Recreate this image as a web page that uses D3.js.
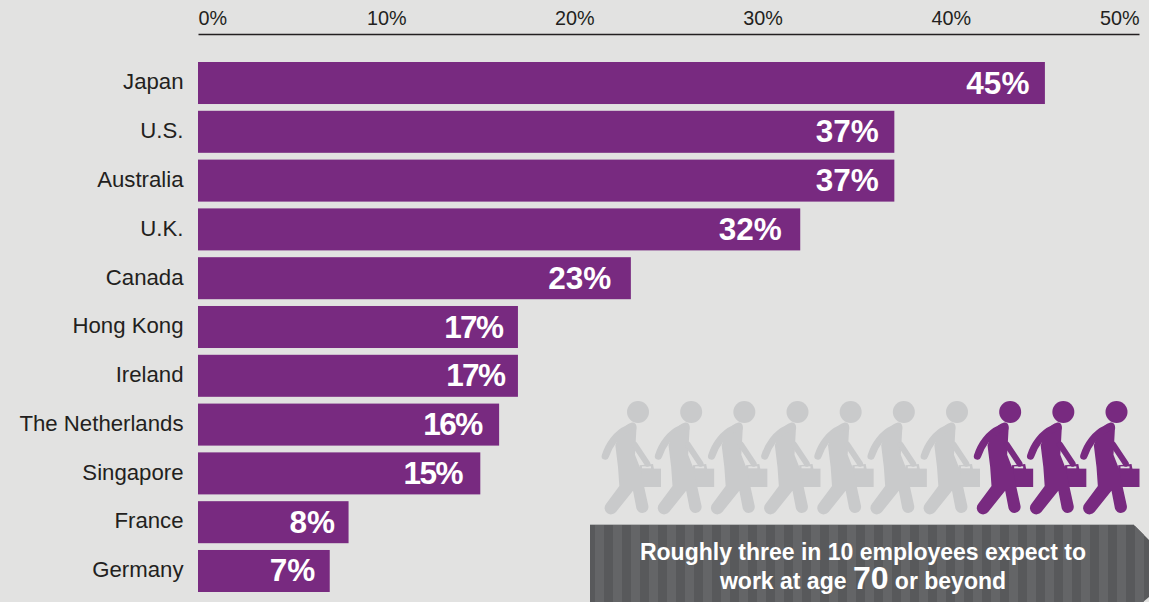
<!DOCTYPE html>
<html><head><meta charset="utf-8">
<script src="https://cdnjs.cloudflare.com/ajax/libs/d3/7.8.5/d3.min.js"></script>
<style>
html,body{margin:0;padding:0;background:#e2e2e1;overflow:hidden}
svg{display:block}
text{font-family:"Liberation Sans",Arial,sans-serif}
</style></head><body>
<svg id="c" width="1149" height="602"></svg>
<script>
const categories=["Japan","U.S.","Australia","U.K.","Canada","Hong Kong","Ireland","The Netherlands","Singapore","France","Germany"];
const values=[45,37,37,32,23,17,17,16,15,8,7];
const tickValues=[0,10,20,30,40,50];
const peopleFlags=[0,0,0,0,0,0,0,1,1,1];
const bannerLines=["Roughly three in 10 employees expect to","work at age ","70"," or beyond"];

const purple="#782a80",bgc="#e2e2e1";
const labelNudge=[0,0,0,-3,-4,0,2,-2,-3,2,1];
const svg=d3.select("#c");
const x=d3.scaleLinear().domain([0,50]).range([198,1139]);
const y=d3.scaleBand().domain(categories).range([62,592]).paddingInner(0.139).paddingOuter(0);
const yc=c=>y(c)+y.bandwidth()/2;

const axis=d3.axisTop(x).tickValues(tickValues).tickFormat(d=>d+"%").tickSize(0).tickPadding(9);
const ag=svg.append("g").attr("transform","translate(0,34)").call(axis);
ag.select(".domain").attr("stroke","#231f20").attr("stroke-width",1.4);
ag.selectAll("text").attr("font-size",19.8).attr("fill","#231f20")
  .style("font-family",'"Liberation Sans",Arial,sans-serif')
  .attr("text-anchor",d=>d===0?"start":d===50?"end":"middle");

svg.append("g").selectAll("rect").data(categories).join("rect")
 .attr("x",x(0)).attr("y",c=>y(c)).attr("height",y.bandwidth())
 .attr("width",(c,i)=>x(values[i])-x(0)).attr("fill",purple);
svg.append("g").selectAll("text").data(categories).join("text")
 .attr("x",183.5).attr("y",c=>yc(c)+6.3).attr("text-anchor","end")
 .attr("font-size",22.2).attr("fill","#231f20").text(c=>c);
svg.append("g").selectAll("text").data(categories).join("text")
 .attr("x",(c,i)=>x(values[i])-15.5+labelNudge[i]).attr("y",c=>yc(c)+10.5).attr("text-anchor","end")
 .attr("font-size",31.5).attr("font-weight","700").attr("fill","#fff")
 .style("letter-spacing",(c,i)=>values[i]>=10&&values[i]<20?"-1.6px":null)
 .text((c,i)=>values[i]+"%");

const px=d3.scaleLinear().domain([0,9]).range([638,1116.5]);
const s=1/3;
svg.append("g").selectAll("g").data(peopleFlags).join("g")
 .attr("transform",(d,i)=>`translate(${px(i)},412) scale(${s})`)
 .each(function(d){
  const g=d3.select(this),col=d?purple:"#c9cacb";
  g.append("rect").attr("x",3).attr("y",170).attr("width",66).attr("height",55).attr("fill",col);
  g.append("path").attr("fill",col).attr("d","M5,160 L45,156 L48,172 L5,172 Z");
  g.append("rect").attr("x",12).attr("y",163).attr("width",27).attr("height",6).attr("fill",bgc);
  g.append("circle").attr("r",33).attr("fill",col);
  g.append("path").attr("fill",col)
   .attr("d","M-20,32 C-6,30 -2,42 -5,55 L-9,128 L8,172 L18,222 L31,281 A18,18 0 0 1 -5,288 L-15,236 L-66,300 A17,17 0 0 1 -96,276 L-56,222 L-60,165 L-68,100 C-55,60 -37,35 -20,32 Z");
  g.append("path").attr("fill","none").attr("stroke",col).attr("stroke-width",22).attr("stroke-linecap","round")
   .attr("d","M-30,50 C-65,65 -88,100 -98,132");
  g.append("path").attr("fill","none").attr("stroke",col).attr("stroke-width",18).attr("stroke-linecap","round")
   .attr("d","M-10,98 L28,155");
 });

const outline=[[590,525],[1134,525],[1149,540],[1149,597],[1143,602],[590,602]];
svg.append("defs").append("clipPath").attr("id","bc").append("polygon").attr("points",outline.join(" "));
const bg=svg.append("g").attr("clip-path","url(#bc)");
bg.append("rect").attr("x",590).attr("y",525).attr("width",559).attr("height",77).attr("fill","#58595b");
bg.selectAll("rect.s").data(d3.range(595,1149,18)).join("rect").attr("class","s")
 .attr("x",d=>d).attr("y",525).attr("width",9).attr("height",77).attr("fill","#646567");
svg.append("line").attr("x1",590).attr("x2",1134).attr("y1",524.5).attr("y2",524.5).attr("stroke","#b5b6b6").attr("stroke-width",1);
svg.append("text").attr("x",863).attr("y",559.5).attr("text-anchor","middle").attr("font-size",23).attr("font-weight","700").attr("fill","#fff").text(bannerLines[0]);
const t2=svg.append("text").attr("x",863).attr("y",589).attr("text-anchor","middle").attr("font-size",23).attr("font-weight","700").attr("fill","#fff");
t2.append("tspan").text(bannerLines[1]);
t2.append("tspan").attr("font-size",32).text(bannerLines[2]);
t2.append("tspan").text(bannerLines[3]);
</script>
</body></html>
